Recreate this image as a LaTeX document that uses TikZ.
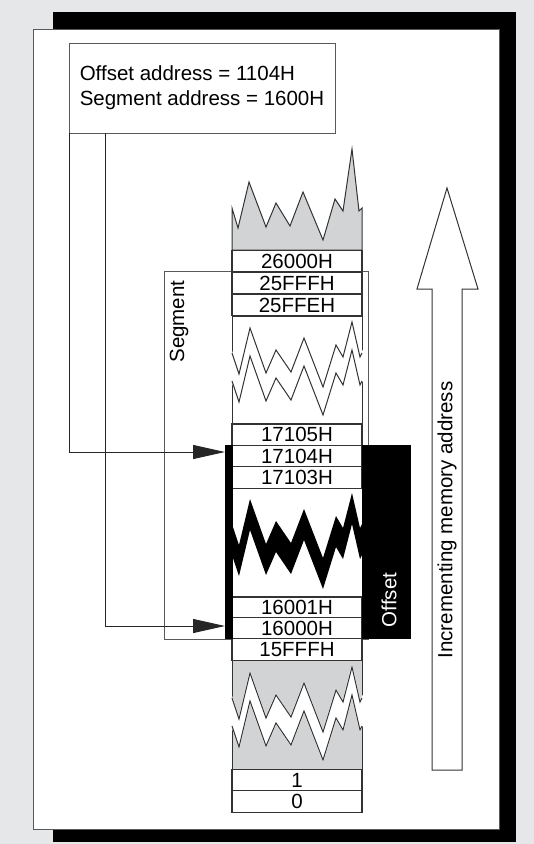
\documentclass[tikz,border=0pt]{standalone}
\usepackage{fontspec}
\setmainfont{Liberation Sans}
\usetikzlibrary{arrows.meta,calc}
\definecolor{pagegray}{RGB}{230,231,232}
\definecolor{memgray}{RGB}{209,211,212}
\definecolor{linegray}{RGB}{88,89,91}
% jagged break lines across the memory column, left to right and back
\newcommand{\jagfwd}[1]{(232,#1) -- (239,#1+21) -- (250,#1-25) -- (266,#1+20) -- (276,#1-3) -- (291,#1+19) -- (304,#1-15) -- (323,#1+34) -- (336,#1-8) -- (343,#1+4) -- (352,#1-31) -- (360,#1+4) -- (362,#1)}
\newcommand{\jagback}[1]{(362,#1) -- (360,#1+4) -- (352,#1-31) -- (343,#1+4) -- (336,#1-8) -- (323,#1+34) -- (304,#1-15) -- (291,#1+19) -- (276,#1-3) -- (266,#1+20) -- (250,#1-25) -- (239,#1+21) -- (232,#1)}

\begin{document}
\begin{tikzpicture}[x=1pt,y=-1pt,font=\fontsize{20.5}{25}\selectfont,
  cell/.style={draw=black!80,fill=white,line width=1.1pt,minimum width=130pt,minimum height=21.4pt,inner sep=0pt,outer sep=0pt},
  thin/.style={draw=linegray,line width=1pt},
  feed/.style={draw=black!85,line width=1pt,-{Triangle[length=32pt,width=14pt]}}]
  \useasboundingbox (0,0) rectangle (534,844);
  \fill[pagegray] (0,0) rectangle (534,844);
  \fill[black] (53,12) rectangle (516,842);
  \filldraw[fill=white,draw=linegray,line width=1pt] (33,29) rectangle (499,829);
  % address box
  \node[draw=linegray,fill=white,line width=1pt,minimum width=266pt,minimum height=90pt,inner xsep=6pt,outer sep=0pt,align=left] (addr) at (202,88) {Offset address = 1104H\\Segment address = 1600H};
  % segment bracket
  \draw[thin] (164,271) rectangle (368,639);
  \node[rotate=90,anchor=east] (seglab) at (179,277) {Segment};
  % memory column
  \filldraw[fill=memgray,draw=black!80,line width=1pt] (232,250) -- (232,208) -- (238,228) -- (249,182) -- (266,227) -- (276,203) -- (290,226) -- (303,192) -- (323,240) -- (335,199) -- (343,211) -- (352,149) -- (359,211) -- (362,208) -- (362,250) -- cycle;
  \foreach \y/\lab in {261/26000H,283/25FFFH,305/25FFEH,434.5/17105H,456/17104H,477.5/17103H,607.5/16001H,628.5/16000H,649.5/15FFFH,780/1,801.5/0}
    \node[cell] (m-\lab) at (297,\y) {\lab};
  % breaks
  \draw[black!80,line width=1pt] (232,316) rectangle (362,424);
  \filldraw[white,line width=1.5pt] \jagfwd{353} -- \jagback{381} -- cycle;
  \draw[black!80,line width=1pt] \jagfwd{353} \jagfwd{381};
  \draw[black!80,line width=1pt] (232,488) rectangle (362,597);
  \fill[black] \jagfwd{524} -- \jagback{555} -- cycle;
  \filldraw[fill=memgray,draw=black!80,line width=1pt] (232,660) rectangle (362,769);
  \filldraw[white,line width=1.5pt] \jagfwd{698} -- \jagback{726} -- cycle;
  \draw[black!80,line width=1pt] \jagfwd{698} \jagfwd{726};
  % offset part
  \node[fill=black,minimum width=8pt,minimum height=194pt,inner sep=0pt,outer sep=0pt] (sbar) at (229,542) {};
  \node[fill=black,minimum width=49pt,minimum height=194pt,inner sep=0pt,outer sep=0pt] (offblk) at (386.5,542) {};
  \node[white,rotate=90] (offlab) at (389,600) {Offset};
  % pointers
  \coordinate (tipA) at (225,452);
  \coordinate (tipB) at (225,626);
  \draw[feed] (addr.south west) |- (tipA);
  \draw[feed] ($(addr.south west)+(36,0)$) |- (tipB);
  % direction arrow
  \draw[black!80,line width=1pt,fill=white] (432,770) -- (432,289) -- (417,289) -- (447,188) -- (478,289) -- (462,289) -- (462,770) -- cycle;
  \node[rotate=90] (inclab) at (447,520) {Incrementing memory address};
\end{tikzpicture}
\end{document}
